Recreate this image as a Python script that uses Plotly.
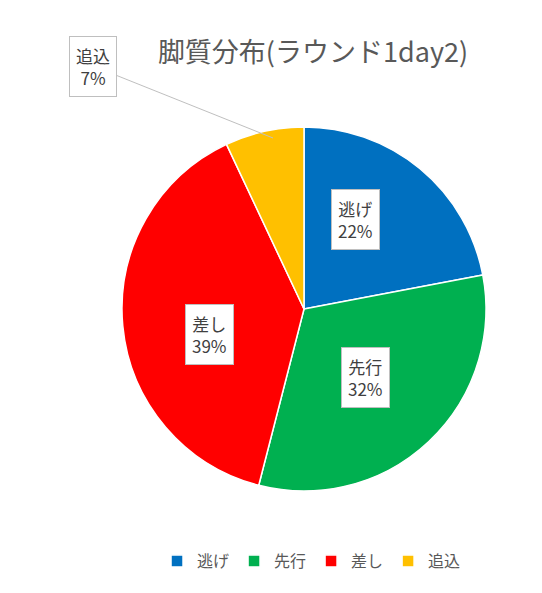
import plotly.graph_objects as go

labels = ["逃げ", "先行", "差し", "追込"]
values = [22, 32, 39, 7]
colors = ["#0070C0", "#00B050", "#FF0000", "#FFC000"]

W, H = 542, 593
# callout box centres (pixels)
box_pos = {"逃げ": (372, 212), "先行": (382, 400), "差し": (177, 326), "追込": (55, 48)}

fig = go.Figure(go.Pie(
    labels=labels, values=values, sort=False, direction="clockwise", rotation=0,
    marker=dict(colors=colors, line=dict(color="white", width=1.5)),
    textinfo="none", hoverinfo="label+percent",
    domain=dict(x=[114 / W, 478 / W], y=[(H - 483) / H, (H - 119) / H]),
))

total = sum(values)
for lab, v in zip(labels, values):
    px_, py_ = box_pos[lab]
    ann = dict(text=f"{lab}<br>{round(v / total * 100)}%",
               xref="paper", yref="paper", x=px_ / W, y=(H - py_) / H,
               font=dict(size=17, color="#404040", family="Noto Sans CJK JP"),
               bgcolor="white", bordercolor="#BFBFBF", borderwidth=1, borderpad=6,
               showarrow=False)
    if lab == "追込":
        ann.update(showarrow=True, arrowhead=0, arrowcolor="#BFBFBF", arrowwidth=1,
                   x=265 / W, y=(H - 130) / H, xanchor="center", yanchor="middle",
                   ax=px_ - 265 + 30, ay=py_ - 130 + 10)
    fig.add_annotation(**ann)

fig.update_layout(
    width=W, height=H, margin=dict(l=0, r=0, t=0, b=0),
    paper_bgcolor="white",
    title=dict(text="脚質分布(ラウンド1day2)", x=305 / W, xanchor="center", y=(H - 45) / H, yanchor="middle",
               font=dict(size=27, color="#595959", family="Noto Sans CJK JP")),
    legend=dict(orientation="h", x=0.56, xanchor="center", y=(H - 553) / H, yanchor="middle",
                font=dict(size=16, color="#595959", family="Noto Sans CJK JP")),
)
fig.write_html("out.html")
